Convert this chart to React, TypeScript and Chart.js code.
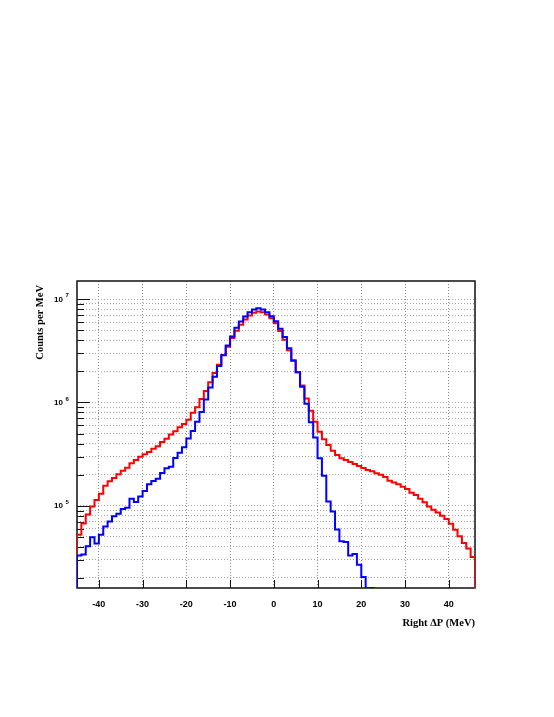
import React, { useEffect, useRef } from 'react';
import { Chart, registerables } from 'chart.js';

Chart.register(...registerables);

// Histogram binning (1 MeV bins)
const BIN_START = -45;
const BIN_WIDTH = 1;
const X_MIN = -45;
const X_MAX = 46;
const Y_MIN = 1.6e4;
const Y_MAX = 1.5e7;
const FLOOR = 1e3; // below the axis: where the histogram outline starts/ends

const X_TICKS = [-40, -30, -20, -10, 0, 10, 20, 30, 40];
const Y_DECADES = [5, 6, 7];

const X_TITLE = 'Right ΔP (MeV)';
const Y_TITLE = 'Counts per MeV';

// Red histogram, bins -45 .. 45
const RED_VALUES = [
  5.25e4, 6.75e4, 8.25e4, 9.85e4, 1.14e5, 1.31e5, 1.56e5, 1.73e5, 1.86e5, 2.02e5,
  2.18e5, 2.34e5, 2.58e5, 2.78e5, 2.99e5, 3.15e5, 3.32e5, 3.57e5, 3.78e5, 4.14e5,
  4.45e5, 4.9e5, 5.27e5, 5.75e5, 6.2e5, 6.8e5, 7.94e5, 9.0e5, 1.08e6, 1.29e6,
  1.57e6, 1.93e6, 2.32e6, 2.88e6, 3.47e6, 4.2e6, 4.95e6, 5.65e6, 6.36e6, 6.95e6,
  7.38e6, 7.59e6, 7.48e6, 7.1e6, 6.55e6, 5.85e6, 4.92e6, 4.05e6, 3.2e6, 2.52e6,
  1.96e6, 1.46e6, 1.09e6, 8.3e5, 6.5e5, 5.21e5, 4.4e5, 3.87e5, 3.41e5, 3.1e5,
  2.88e5, 2.78e5, 2.66e5, 2.54e5, 2.43e5, 2.32e5, 2.22e5, 2.16e5, 2.06e5, 2.0e5,
  1.9e5, 1.75e5, 1.68e5, 1.62e5, 1.53e5, 1.45e5, 1.34e5, 1.27e5, 1.17e5, 1.08e5,
  9.85e4, 9.15e4, 8.6e4, 8.0e4, 7.44e4, 6.7e4, 5.87e4, 5.06e4, 4.37e4, 3.85e4,
  3.2e4,
];

// Blue histogram, bins -45 .. 22 (empty afterwards)
const BLUE_VALUES = [
  3.3e4, 3.37e4, 4.06e4, 4.95e4, 4.31e4, 5.25e4, 6.31e4, 7.06e4, 7.9e4, 8.38e4,
  9.3e4, 9.57e4, 1.17e5, 1.09e5, 1.23e5, 1.39e5, 1.62e5, 1.74e5, 1.83e5, 2.08e5,
  2.31e5, 2.39e5, 2.9e5, 3.27e5, 3.68e5, 4.48e5, 5.3e5, 6.5e5, 8.1e5, 1.07e6,
  1.4e6, 1.77e6, 2.25e6, 2.86e6, 3.57e6, 4.35e6, 5.28e6, 6.08e6, 6.8e6, 7.48e6,
  7.94e6, 8.17e6, 7.94e6, 7.48e6, 6.84e6, 6.1e6, 5.17e6, 4.3e6, 3.35e6, 2.56e6,
  1.96e6, 1.42e6, 9.7e5, 6.45e5, 4.59e5, 2.89e5, 1.95e5, 1.1e5, 8.8e4, 5.9e4,
  4.53e4, 4.47e4, 3.3e4, 3.42e4, 2.68e4, 2.05e4, 1.6e4, 1.6e4,
];

function histOutline(values: number[]) {
  const nBins = Math.round((X_MAX - BIN_START) / BIN_WIDTH);
  const pts: { x: number; y: number | null }[] = [];
  pts.push({ x: BIN_START, y: FLOOR });
  for (let i = 0; i < nBins; i++) {
    const v = i < values.length ? values[i] : null;
    const x0 = BIN_START + i * BIN_WIDTH;
    pts.push({ x: x0, y: v }, { x: x0 + BIN_WIDTH, y: v });
  }
  pts.push({ x: BIN_START + nBins * BIN_WIDTH, y: FLOOR });
  return pts;
}

function logTicks() {
  const out: { value: number }[] = [];
  for (let k = 3; k <= 8; k++) {
    for (let m = 1; m <= 9; m++) {
      const v = m * Math.pow(10, k);
      if (v >= Y_MIN && v <= Y_MAX) out.push({ value: v });
    }
  }
  return out;
}

const decorPlugin = {
  id: 'rootDecor',
  beforeDatasetsDraw(chart: any) {
    const { ctx, chartArea: a, scales } = chart;
    const xs = scales.x;
    const ys = scales.y;
    ctx.save();
    ctx.strokeStyle = '#111';
    ctx.lineWidth = 1.5;
    ctx.strokeRect(a.left, a.top, a.right - a.left, a.bottom - a.top);
    ctx.lineWidth = 1;
    ctx.beginPath();
    for (const t of ys.ticks) {
      const p = Math.round(ys.getPixelForValue(t.value)) + 0.5;
      const lg = Math.log10(t.value);
      const major = Math.abs(lg - Math.round(lg)) < 1e-9;
      const len = major ? 13 : 7;
      ctx.moveTo(a.left, p);
      ctx.lineTo(a.left + len, p);
    }
    for (const v of X_TICKS) {
      const p = Math.round(xs.getPixelForValue(v)) + 0.5;
      ctx.moveTo(p, a.bottom);
      ctx.lineTo(p, a.bottom - 8);
    }
    ctx.stroke();
    ctx.restore();
  },
  afterDraw(chart: any) {
    const { ctx, chartArea: a, scales } = chart;
    const xs = scales.x;
    const ys = scales.y;
    ctx.save();
    ctx.fillStyle = '#000';
    // x tick labels
    ctx.font = 'bold 9px "Liberation Sans", Arial, sans-serif';
    ctx.textAlign = 'center';
    ctx.textBaseline = 'middle';
    for (const v of X_TICKS) {
      ctx.fillText(String(v), xs.getPixelForValue(v), a.bottom + 17);
    }
    // y decade labels 10^k
    for (const k of Y_DECADES) {
      const p = ys.getPixelForValue(Math.pow(10, k));
      ctx.font = 'bold 8px "Liberation Sans", Arial, sans-serif';
      ctx.textAlign = 'right';
      ctx.textBaseline = 'middle';
      ctx.fillText('10', 63, p + 0.5);
      ctx.font = 'bold 6px "Liberation Sans", Arial, sans-serif';
      ctx.textAlign = 'left';
      ctx.fillText(String(k), 65.5, p - 3.5);
    }
    // axis titles
    ctx.font = 'bold 10.5px "Liberation Serif", "Times New Roman", serif';
    ctx.textAlign = 'right';
    ctx.textBaseline = 'middle';
    ctx.fillText(X_TITLE, a.right, 623);
    ctx.translate(40, a.top + 4);
    ctx.rotate(-Math.PI / 2);
    ctx.fillText(Y_TITLE, 0, 0);
    ctx.restore();
  },
};

export default function App() {
  const ref = useRef<HTMLCanvasElement | null>(null);

  useEffect(() => {
    if (!ref.current) return;
    const chart = new Chart(ref.current, {
      type: 'line',
      data: {
        datasets: [
          {
            label: 'blue',
            data: histOutline(BLUE_VALUES),
            borderColor: '#0000ff',
            borderWidth: 2,
            pointRadius: 0,
            fill: false,
            tension: 0,
            spanGaps: false,
            borderJoinStyle: 'miter',
            order: 1,
          },
          {
            label: 'red',
            data: histOutline(RED_VALUES),
            borderColor: '#ff0000',
            borderWidth: 2,
            pointRadius: 0,
            fill: false,
            tension: 0,
            spanGaps: false,
            borderJoinStyle: 'miter',
            order: 2,
          },
        ] as any,
      },
      options: {
        animation: false,
        responsive: false,
        events: [],
        layout: { padding: { top: 281, right: 79, bottom: 0, left: 0 } },
        plugins: {
          legend: { display: false },
          tooltip: { enabled: false },
          title: { display: false },
        },
        scales: {
          x: {
            type: 'linear',
            min: X_MIN,
            max: X_MAX,
            ticks: { display: false },
            grid: { color: '#8a8a8a', lineWidth: 1, drawTicks: false },
            border: { display: false, dash: [1, 2] },
            afterBuildTicks: (scale: any) => {
              scale.ticks = X_TICKS.map((v) => ({ value: v }));
            },
            afterFit: (scale: any) => {
              scale.height = 129;
            },
          },
          y: {
            type: 'logarithmic',
            min: Y_MIN,
            max: Y_MAX,
            ticks: { display: false },
            grid: { color: '#a8a8a8', lineWidth: 1, drawTicks: false },
            border: { display: false, dash: [1, 2] },
            afterBuildTicks: (scale: any) => {
              scale.ticks = logTicks();
            },
            afterFit: (scale: any) => {
              scale.width = 77;
            },
          },
        },
      } as any,
      plugins: [decorPlugin],
    });
    return () => chart.destroy();
  }, []);

  return (
    <div style={{ position: 'absolute', left: 0, top: 0, width: 554, height: 717, background: '#fff' }}>
      <canvas ref={ref} width={554} height={717} style={{ width: 554, height: 717, display: 'block' }} />
    </div>
  );
}
